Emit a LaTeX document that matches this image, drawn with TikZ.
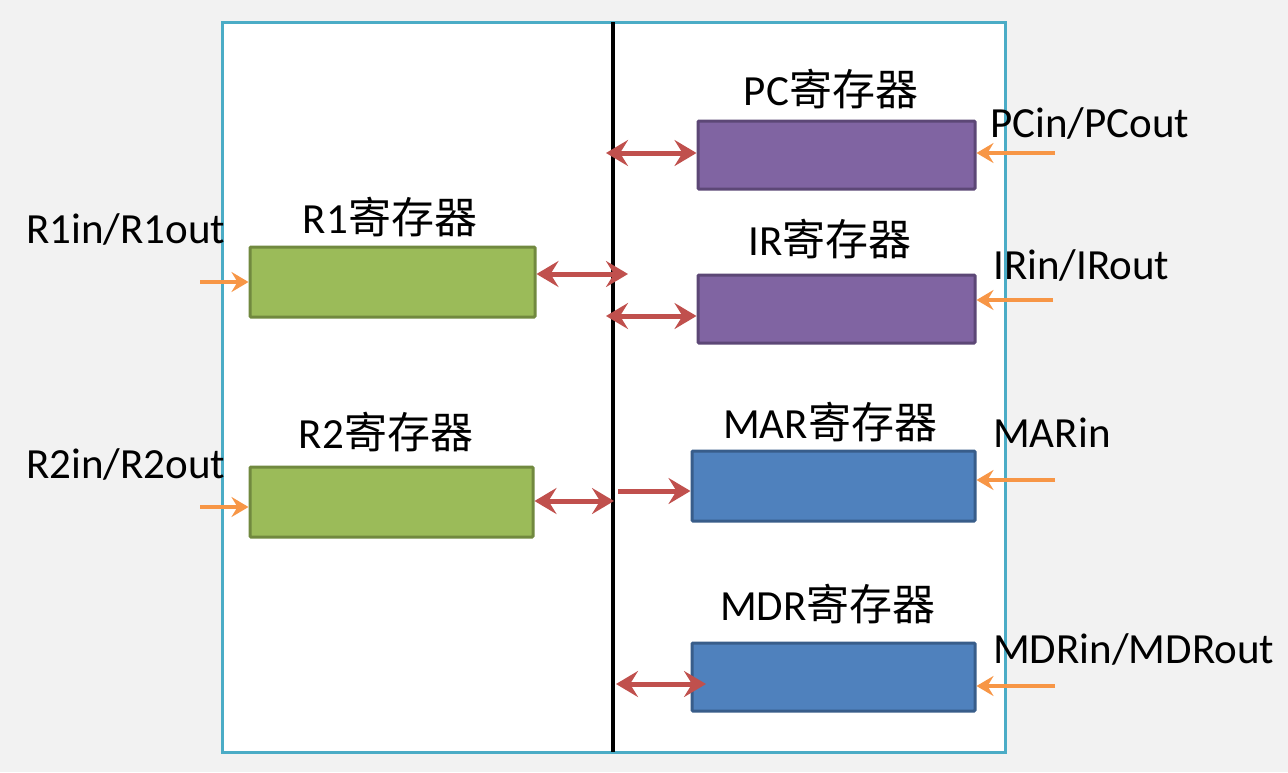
\documentclass[tikz,border=0pt]{standalone}
\usepackage{fontspec}
\setmainfont{Carlito}
\newfontfamily\cjk{Noto Sans CJK SC}
\usetikzlibrary{arrows.meta}
\definecolor{bgray}{HTML}{F2F2F2}
\definecolor{frame}{HTML}{4BACC6}
\definecolor{pfill}{HTML}{8064A2}
\definecolor{pline}{HTML}{5C4776}
\definecolor{bfill}{HTML}{4F81BD}
\definecolor{bline}{HTML}{385D8A}
\definecolor{gfill}{HTML}{9BBB59}
\definecolor{gline}{HTML}{71893F}
\definecolor{redarr}{HTML}{C0504D}
\definecolor{orarr}{HTML}{F79646}
\tikzset{
  reg/.style={rectangle, inner sep=0pt, line width=3pt, rounded corners=1pt},
  preg/.style={reg, fill=pfill, draw=pline},
  breg/.style={reg, fill=bfill, draw=bline},
  greg/.style={reg, fill=gfill, draw=gline},
  lbl/.style={font=\fontsize{43}{50}\selectfont, inner sep=0pt, anchor=base},
  sig/.style={font=\fontsize{43}{50}\selectfont, inner sep=0pt, anchor=base west},
  rtip/.tip={Stealth[length=22pt,width=26pt,inset=8pt]},
  otip/.tip={Stealth[length=17pt,width=20pt,inset=6pt]},
  busarr/.style={draw=redarr, line width=5pt, rtip-rtip},
  busone/.style={draw=redarr, line width=5pt, -rtip},
  ctl/.style={draw=orarr, line width=4pt, -otip}
}
\begin{document}
\begin{tikzpicture}[x=1pt,y=-1pt]
\useasboundingbox (0,0) rectangle (1288,772);
\fill[bgray] (0,0) rectangle (1288,772);
\node[draw=frame, fill=white, line width=3pt, rectangle, inner sep=0pt, minimum width=783pt, minimum height=730pt] (frame) at (613.5,387) {};
\coordinate (bustop) at (613,22);
\coordinate (busbot) at (613,752);
\draw[line width=4pt] (bustop) -- (busbot);

% registers
\node[preg, minimum width=277pt, minimum height=68pt] (PC) at (836.5,155) {};
\node[preg, minimum width=277pt, minimum height=68pt] (IR) at (836.5,309) {};
\node[breg, minimum width=283pt, minimum height=70pt] (MAR) at (833.5,486) {};
\node[breg, minimum width=283pt, minimum height=68pt] (MDR) at (833.5,677) {};
\node[greg, minimum width=285pt, minimum height=70pt] (R1) at (392.5,282) {};
\node[greg, minimum width=283pt, minimum height=70pt] (R2) at (391.5,502) {};

% register labels
\node[lbl] (tPC) at (831,105) {PC{\cjk 寄存器}};
\node[lbl] (tIR) at (830,255) {IR{\cjk 寄存器}};
\node[lbl] (tMAR) at (830,438) {MAR{\cjk 寄存器}};
\node[lbl] (tMDR) at (828,620) {MDR{\cjk 寄存器}};
\node[lbl] (tR1) at (390,233) {R1{\cjk 寄存器}};
\node[lbl] (tR2) at (386,448) {R2{\cjk 寄存器}};

% signal labels
\node[sig] (sR1) at (26,243) {R1in/R1out};
\node[sig] (sR2) at (26,478) {R2in/R2out};
\node[sig] (sPC) at (990,137) {PCin/PCout};
\node[sig] (sIR) at (993,279) {IRin/IRout};
\node[sig] (sMAR) at (993,447) {MARin};
\node[sig] (sMDR) at (993,663) {MDRin/MDRout};

% bus coordinates
\coordinate (bPC) at (606,153);
\coordinate (bR1) at (628,274);
\coordinate (bIR) at (606,316);
\coordinate (bR2) at (614,501);
\coordinate (bMAR) at (618,491);
\coordinate (bMDR) at (616,684);
\coordinate (eMDR) at (706,684);

% bus arrows
\draw[busarr] (bPC) -- (bPC -| PC.west);
\draw[busarr] (bR1 -| R1.east) -- (bR1);
\draw[busarr] (bIR) -- (bIR -| IR.west);
\draw[busarr] (bR2 -| R2.east) -- (bR2);
\draw[busone] (bMAR) -- (bMAR -| MAR.west);
\draw[busarr] (bMDR) -- (eMDR);

% control arrows
\coordinate (cR1) at (200,282);
\coordinate (cR2) at (200,507);
\coordinate (cPC) at (1055,153);
\coordinate (cIR) at (1053,300);
\coordinate (cMAR) at (1055,480);
\coordinate (cMDR) at (1055,686);
\draw[ctl] (cR1) -- (cR1 -| R1.west);
\draw[ctl] (cR2) -- (cR2 -| R2.west);
\draw[ctl] (cPC) -- (cPC -| PC.east);
\draw[ctl] (cIR) -- (cIR -| IR.east);
\draw[ctl] (cMAR) -- (cMAR -| MAR.east);
\draw[ctl] (cMDR) -- (cMDR -| MDR.east);
\end{tikzpicture}
\end{document}
